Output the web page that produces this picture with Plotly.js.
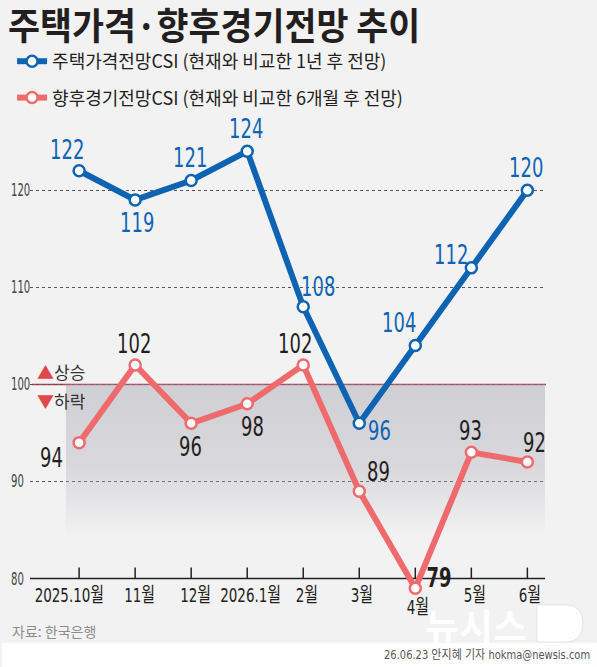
<!DOCTYPE html>
<html><head><meta charset="utf-8">
<script src="https://cdn.plot.ly/plotly-3.0.1.min.js"></script>
<style>html,body{margin:0;padding:0;background:#f2f2f2}#chart{width:597px;height:667px}</style>
</head><body><div id="chart"></div>
<script>
// ---- data ----
const months = ['2025.10월','11월','12월','2026.1월','2월','3월','4월','5월','6월'];
const housingCSI = [122,119,121,124,108,96,104,112,120];
const economyCSI = [94,102,96,98,102,89,79,93,92];
const seriesNames = ['주택가격전망CSI (현재와 비교한 1년 후 전망)','향후경기전망CSI (현재와 비교한 6개월 후 전망)'];
const yTicks = [80,90,100,110,120];

// ---- style / layout helpers ----
const W=597,H=667, L=28, R=52, T=120, B=69;
const PW=W-L-R, PH=H-T-B, YS=9.71, YMIN=78, BASE=80;
const px=x=>(x-L)/PW, py=y=>(H-B-y)/PH;
const BLUE='#0e64b2', RED='#ef6a6c';
const NUM='"DejaVu Sans Condensed","DejaVu Sans","Noto Sans CJK KR",sans-serif';
const KR='"Noto Sans CJK KR",sans-serif';
const idx = months.map((_,i)=>i);
// label offsets (px) relative to markers
const blueOff=[[-12,-21],[2,23],[-1,-23],[-1,-23],[15,-20],[20,7],[-16,-23],[-20,-13],[-1,-23]];
const redOff=[[-28,15],[-1,-21],[-1,23],[5,23],[-8,-21],[19,-20],[24,-11],[-1,-22],[7,-20]];
const xDrop=[0,0,0,0,0,0,12,0,0];
const xNudge=[-10,4,4,3,4,3,3,4,3];

const traces=[
  {x:[-0.236,8.4,8.4,-0.236], y:[100,100,84.4,84.4], mode:'none', fill:'toself',
   fillgradient:{type:'vertical', start:84.4, stop:100,
     colorscale:[[0,'rgba(176,174,184,0)'],[0.45,'rgba(176,174,184,0.38)'],[1,'rgba(176,174,184,0.52)']]},
   showlegend:false, hoverinfo:'skip'},
  {x:idx, y:housingCSI, name:seriesNames[0], mode:'lines+markers', legendgroup:'a',
   line:{color:BLUE,width:6}, marker:{size:11,color:'#fff',line:{color:BLUE,width:2.5}}, cliponaxis:false},
  {x:idx, y:economyCSI, name:seriesNames[1], mode:'lines+markers', legendgroup:'b',
   line:{color:RED,width:6}, marker:{size:11,color:'#fff',line:{color:RED,width:2.5}}, cliponaxis:false}
];

const ann=[], squeeze=[];
function add(a, s, mode){ ann.push(a); squeeze.push(s?[s,mode]:null); }
function valueLabel(i,v,off,font){
  const ya=Math.max(v,YMIN);
  add({x:i,y:ya,xref:'x',yref:'y',text:String(v),showarrow:false,
    xshift:off[0], yshift:-off[1]-(ya-v)*YS, font:font},0.74,'c');
}
// watermark
add({x:px(476),xref:'paper',y:py(625),yref:'paper',xanchor:'center',yanchor:'middle',showarrow:false,
  text:'<b>뉴시스</b>',font:{family:KR,size:37,color:'rgba(255,255,255,0.95)'}});
housingCSI.forEach((v,i)=>valueLabel(i,v,blueOff[i],{family:NUM,size:27,color:BLUE}));
economyCSI.forEach((v,i)=>valueLabel(i,v,redOff[i],{family:NUM,size:27,color:'#231f20',weight:(v===Math.min(...economyCSI)?'bold':'normal')}));
months.forEach((m,i)=>add({x:i,y:BASE,xref:'x',yref:'y',text:m,showarrow:false,yanchor:'middle',
  xshift:xNudge[i], yshift:-(16+xDrop[i]), font:{family:NUM,size:20,color:'#231f20'}},0.75,'c'));
yTicks.forEach(v=>add({x:px(7),xref:'paper',y:v,yref:'y',xanchor:'left',text:String(v),showarrow:false,
  font:{family:NUM,size:17,color:'#444'}},0.66,'l'));
add({x:px(33),xref:'paper',y:py(371),yref:'paper',xanchor:'left',yanchor:'middle',showarrow:false,
  text:'<span style="color:#e0474c">▲</span>상승',font:{family:KR,size:17,color:'#333'}});
add({x:px(33),xref:'paper',y:py(400),yref:'paper',xanchor:'left',yanchor:'middle',showarrow:false,
  text:'<span style="color:#e0474c">▼</span>하락',font:{family:KR,size:17,color:'#333'}});
add({x:px(8),xref:'paper',y:py(631),yref:'paper',xanchor:'left',yanchor:'middle',showarrow:false,
  text:'자료: 한국은행',font:{family:KR,size:14,color:'#8c8c8c'}});
add({x:px(592),xref:'paper',y:py(655),yref:'paper',xanchor:'right',yanchor:'middle',showarrow:false,
  text:'26.06.23 안지혜 기자 hokma@newsis.com',font:{family:NUM,size:12,color:'#555'}},0.92,'r');

const dPath=`M ${px(537)},${py(605)} L ${px(566)},${py(605)} Q ${px(583)},${py(605)} ${px(583)},${py(623)} Q ${px(583)},${py(642)} ${px(566)},${py(642)} L ${px(537)},${py(642)} Z`;
const yTop = YMIN+PH/YS;

// baseline (value 80) with upward tick marks at each category
const axisShapes=[{type:'line',xref:'paper',yref:'y',x0:0,x1:1,y0:BASE,y1:BASE,line:{color:'#222',width:1.5},layer:'between'}]
  .concat(idx.map(i=>({type:'line',xref:'x',yref:'y',x0:i,x1:i,y0:BASE,y1:BASE+11/YS,line:{color:'#222',width:1.5},layer:'between'})));

const layout={
  width:W,height:H,margin:{l:L,r:R,t:T,b:B},
  paper_bgcolor:'#f2f2f2',plot_bgcolor:'rgba(0,0,0,0)',
  title:{text:'주택가격·향후경기전망 추이',x:8/W,xanchor:'left',xref:'container',y:1-27/H,yanchor:'middle',yref:'container',
    font:{family:KR,size:37,color:'#231f20',weight:'bold'}},
  showlegend:true,
  legend:{x:px(10),xanchor:'left',y:py(43),yanchor:'top',bgcolor:'rgba(0,0,0,0)',tracegroupgap:10,
    font:{family:KR,size:18,color:'#231f20'}},
  xaxis:{range:[-(77.3-L)/56.25, 8+(545-527.3)/56.25],tickvals:idx,showticklabels:false,ticks:'',
    showline:false,showgrid:false,zeroline:false,fixedrange:true},
  yaxis:{range:[YMIN,yTop],tickvals:yTicks.filter(v=>v>BASE),showticklabels:false,ticks:'',showgrid:true,griddash:'dot',
    gridcolor:'#555',gridwidth:1,zeroline:false,showline:false,fixedrange:true},
  shapes:[
    {type:'rect',xref:'paper',yref:'paper',x0:px(0),x1:px(W),y0:py(643),y1:py(H),fillcolor:'#fff',line:{width:0},layer:'below'},
    {type:'line',xref:'paper',yref:'y',x0:px(30),x1:px(546),y0:100,y1:100,line:{color:'#c8374e',width:1.5},layer:'between'},
    {type:'path',xref:'paper',yref:'paper',path:dPath,fillcolor:'rgba(255,255,255,0.95)',line:{color:'rgba(215,215,215,0.6)',width:1},layer:'below'}
  ].concat(axisShapes),
  annotations:ann
};

function condense(el, s, mode){
  if(!el) return;
  const bb=el.getBBox();
  const cx = mode==='l'? bb.x : mode==='r'? bb.x+bb.width : bb.x+bb.width/2;
  const ex=el.getAttribute('transform')||'';
  el.setAttribute('transform', `${ex} translate(${cx},0) scale(${s},1) translate(${-cx},0)`);
}
Plotly.newPlot('chart',traces,layout,{displayModeBar:false,staticPlot:true}).then(gd=>{
  squeeze.forEach((q,i)=>{
    if(!q) return;
    const g=gd.querySelector(`.annotation[data-index="${i}"] text.annotation-text`);
    condense(g,q[0],q[1]);
  });
  condense(gd.querySelector('.gtitle'),0.94,'l');
});
</script></body></html>
